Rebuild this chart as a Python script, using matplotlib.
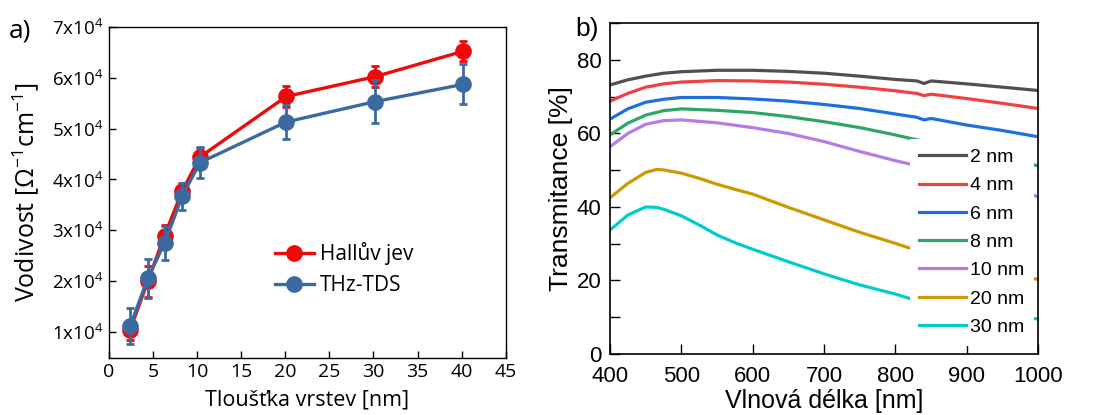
import matplotlib
matplotlib.use("Agg")
import matplotlib.pyplot as plt
from matplotlib.ticker import MultipleLocator, FixedLocator
from matplotlib.lines import Line2D

# ---------------- Panel a data ----------------
hall_x = [2.4, 4.4, 6.3, 8.3, 10.3, 20.1, 30.2, 40.2]
hall_y = [1.05e4, 2.0e4, 2.9e4, 3.77e4, 4.44e4, 5.63e4, 6.02e4, 6.52e4]
hall_err = [0.2e4, 0.3e4, 0.2e4, 0.17e4, 0.17e4, 0.2e4, 0.2e4, 0.2e4]
thz_x = [2.4, 4.4, 6.3, 8.3, 10.3, 20.1, 30.2, 40.2]
thz_y = [1.12e4, 2.06e4, 2.75e4, 3.67e4, 4.33e4, 5.13e4, 5.53e4, 5.87e4]
thz_err = [0.35e4, 0.38e4, 0.33e4, 0.27e4, 0.3e4, 0.33e4, 0.42e4, 0.39e4]
a_labels = ['Hallův jev', 'THz-TDS']
a_yticks = [1e4, 2e4, 3e4, 4e4, 5e4, 6e4, 7e4]
a_yticklabels = [r'$\mathregular{%dx10^{4}}$' % i for i in range(1, 8)]

# ---------------- Panel b data ----------------
wl_2 = [400, 425, 450, 475, 500, 550, 600, 650, 700, 750, 800, 830, 840, 850, 900, 950, 1000]
t_2 = [73.2, 74.6, 75.6, 76.4, 76.8, 77.2, 77.2, 76.9, 76.4, 75.6, 74.7, 74.3, 73.6, 74.3, 73.5, 72.6, 71.7]
wl_4 = [400, 425, 450, 475, 500, 550, 600, 650, 700, 750, 800, 830, 840, 850, 900, 950, 1000]
t_4 = [68.8, 70.9, 72.6, 73.5, 74.0, 74.4, 74.3, 74.0, 73.4, 72.6, 71.6, 70.9, 70.3, 70.7, 69.5, 68.2, 66.8]
wl_6 = [400, 425, 450, 475, 500, 550, 600, 650, 700, 750, 800, 830, 840, 850, 900, 950, 1000]
t_6 = [63.9, 66.7, 68.5, 69.3, 69.8, 69.8, 69.4, 68.8, 67.9, 66.8, 65.3, 64.4, 63.7, 64.1, 62.3, 60.8, 59.1]
wl_8 = [400, 425, 450, 475, 500, 550, 600, 650, 700, 750, 800, 820, 850, 900, 950, 980, 1000]
t_8 = [59.6, 62.8, 65.0, 66.2, 66.7, 66.3, 65.7, 64.6, 63.2, 61.6, 59.6, 58.7, 57.5, 55.5, 53.4, 52.1, 51.2]
wl_10 = [400, 425, 450, 475, 500, 550, 600, 650, 700, 750, 800, 820, 850, 900, 950, 980, 1000]
t_10 = [56.4, 60.0, 62.5, 63.5, 63.7, 62.9, 61.6, 60.0, 57.8, 55.1, 52.6, 51.7, 50.3, 48.3, 45.7, 43.9, 42.8]
wl_20 = [400, 425, 450, 465, 475, 500, 525, 550, 575, 600, 650, 700, 750, 800, 820, 850, 900, 950, 980, 1000]
t_20 = [42.5, 46.4, 49.4, 50.2, 50.1, 49.2, 47.8, 46.2, 44.8, 43.5, 39.9, 36.5, 33.1, 30.1, 28.8, 26.9, 24.7, 22.4, 21.0, 20.3]
wl_30 = [400, 425, 450, 465, 475, 500, 525, 550, 575, 600, 650, 700, 750, 800, 820, 850, 900, 950, 980, 1000]
t_30 = [33.7, 37.8, 40.0, 39.9, 39.4, 37.6, 35.1, 32.4, 30.3, 28.5, 25.1, 21.8, 18.8, 16.3, 15.1, 13.6, 11.8, 10.6, 10.0, 9.5]
b_labels = ['2 nm', '4 nm', '6 nm', '8 nm', '10 nm', '20 nm', '30 nm']
b_colors = ['#505050', '#f04040', '#1f6fe0', '#2ea66a', '#b57be6', '#cc9900', '#00cccc']

fig = plt.figure(figsize=(11.11, 4.15), dpi=100)
plt.rcParams['mathtext.fontset'] = 'custom'

# ---------------- Panel a ----------------
fa = 'Open Sans'
ax = fig.add_axes([0.0981, 0.138, 0.3571, 0.7976])
red = '#ee0a0a'
blue = '#3a6aa0'
ax.errorbar(hall_x, hall_y, yerr=hall_err, color=red, marker='o', ms=11, lw=2.4,
            capsize=3, elinewidth=2, capthick=2, zorder=3)
ax.errorbar(thz_x, thz_y, yerr=thz_err, color=blue, marker='o', ms=11, lw=2.4,
            capsize=3, elinewidth=2, capthick=2, zorder=4)
ax.set_xlim(0, 45)
ax.set_ylim(0.5e4, 7e4)
ax.xaxis.set_major_locator(MultipleLocator(5))
ax.yaxis.set_major_locator(FixedLocator(a_yticks))
ax.set_yticklabels(a_yticklabels, fontsize=13.5, family=fa)
for lab in ax.get_xticklabels():
    lab.set_fontsize(14)
    lab.set_family(fa)
ax.tick_params(direction='in', length=5, width=1, pad=4)
ax.set_xlabel('Tloušťka vrstev [nm]', fontsize=15.5, family=fa, labelpad=6)
ax.set_ylabel(r'Vodivost [Ω$^{\mathregular{-1}}$cm$^{\mathregular{-1}}$]', fontsize=18, family=fa, labelpad=8)
handles = [Line2D([], [], color=red, marker='o', ms=11, lw=2.4),
           Line2D([], [], color=blue, marker='o', ms=11, lw=2.4)]
ax.legend(handles, a_labels, loc='upper left', bbox_to_anchor=(0.37, 0.405), frameon=False,
          prop={'family': fa, 'size': 15}, handlelength=1.9, handletextpad=0.3,
          labelspacing=0.45)
for s in ax.spines.values():
    s.set_linewidth(1)
fig.text(0.008, 0.925, 'a)', fontsize=19, family=fa, va='center')

# ---------------- Panel b ----------------
fb = 'Liberation Sans'
bx = fig.add_axes([0.549, 0.147, 0.3855, 0.797])
series = [(wl_2, t_2), (wl_4, t_4), (wl_6, t_6), (wl_8, t_8), (wl_10, t_10), (wl_20, t_20), (wl_30, t_30)]
for (w, t), lab, c in zip(series, b_labels, b_colors):
    bx.plot(w, t, color=c, lw=2.3, label=lab)
bx.set_xlim(400, 1000)
bx.set_ylim(0, 90)
bx.xaxis.set_major_locator(MultipleLocator(100))
bx.yaxis.set_major_locator(MultipleLocator(20))
bx.yaxis.set_minor_locator(MultipleLocator(10))
bx.tick_params(which='both', direction='in', width=1, labelsize=16)
bx.tick_params(axis='x', pad=9)
bx.tick_params(axis='y', pad=6)
bx.tick_params(which='major', length=7)
bx.tick_params(which='minor', length=7)
for lab in bx.get_xticklabels() + bx.get_yticklabels():
    lab.set_family(fb)
bx.set_xlabel('Vlnová délka [nm]', fontsize=18, family=fb, labelpad=1)
bx.set_ylabel('Transmitance [%]', fontsize=19, family=fb, labelpad=3)
lg = bx.legend(loc='upper left', bbox_to_anchor=(0.700, 0.651), frameon=True, fancybox=False,
               facecolor='white', edgecolor='none', framealpha=1,
               prop={'family': fb, 'size': 14}, handlelength=2.4, handletextpad=0.2,
               labelspacing=0.55, borderpad=0.5, borderaxespad=0)
lg.set_zorder(5)
for s in bx.spines.values():
    s.set_linewidth(1.2)
fig.text(0.518, 0.93, 'b)', fontsize=19, family=fb, va='center')

fig.savefig('out.png', dpi=100)
